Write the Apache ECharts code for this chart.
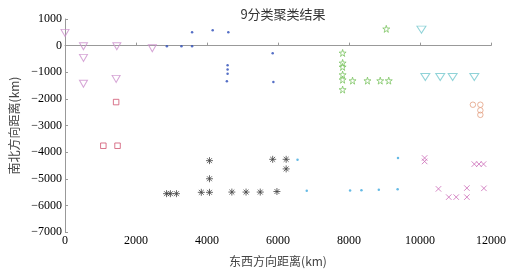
<!DOCTYPE html>
<html>
<head>
<meta charset="utf-8">
<script src="https://cdn.jsdelivr.net/npm/echarts@6/dist/echarts.min.js"></script>
<style>
  html, body { margin: 0; padding: 0; background: #fff; }
  #chart { width: 510px; height: 276px; }
</style>
</head>
<body>
<div id="chart"></div>
<script>
// 9 clusters, [east-west km, north-south km]
const cluster1 = [[0, 480], [520, -25], [520, -460], [520, -1430], [1460, -25], [1440, -1250], [2460, -100]];
const cluster2 = [[2870, -25], [3280, -25], [3580, -25], [3580, 500], [4160, 580], [4600, 500],
  [4580, -740], [4580, -900], [4580, -1060], [4560, -1340], [5850, -290], [5870, -1365]];
const cluster3 = [[7820, -275], [7820, -650], [7820, -800], [7820, -1090], [7820, -1280], [7820, -1650],
  [8100, -1315], [8520, -1315], [8880, -1315], [9120, -1315], [9050, 630]];
const cluster4 = [[10040, 600], [10150, -1180], [10570, -1180], [10920, -1180], [11530, -1180]];
const cluster5 = [[11490, -2220], [11700, -2220], [11700, -2430], [11700, -2600]];
const cluster6 = [[1440, -2120], [1080, -3760], [1480, -3760]];
const cluster7 = [[2860, -5560], [2970, -5560], [3140, -5560], [3840, -5510], [4070, -5510], [4070, -5000],
  [4070, -4320], [4700, -5500], [5100, -5500], [5500, -5500], [5970, -5480], [5850, -4270],
  [6230, -4270], [6230, -4630]];
const cluster8 = [[6550, -4290], [6810, -5450], [8030, -5440], [8350, -5430], [8840, -5410], [9370, -5390], [9380, -4220]];
const cluster9 = [[10130, -4220], [10130, -4350], [11530, -4450], [11660, -4450], [11790, -4450],
  [10520, -5380], [10810, -5690], [11020, -5690], [11320, -5350], [11320, -5690], [11800, -5360], [11790, -7040]];

const xTicks = [0, 2000, 4000, 6000, 8000, 10000, 12000];
const yTicks = [-7000, -6000, -5000, -4000, -3000, -2000, -1000, 0, 1000];

const starPath = 'path://M50,0L61,35L98,35L68,57L79,91L50,70L21,91L32,57L2,35L39,35Z';
const asteriskPath = 'path://M50,0L50,100M0,50L100,50M15,15L85,85M15,85L85,15';
const crossPath = 'path://M0,0L100,100M0,100L100,0';

const hollow = (c, w) => ({ color: 'transparent', borderColor: c, borderWidth: w || 1 });

const series = [
  { data: cluster1, symbol: 'triangle', symbolRotate: 180, symbolSize: [8, 7], itemStyle: hollow('#cc8fcc') },
  { data: cluster2, symbol: 'circle', symbolSize: 2.5, itemStyle: { color: '#2a4bb8' } },
  { data: cluster3, symbol: starPath, symbolSize: 7, itemStyle: hollow('#7cc462') },
  { data: cluster4, symbol: 'triangle', symbolRotate: 180, symbolSize: [9, 7], itemStyle: hollow('#74c8ce') },
  { data: cluster5, symbol: 'circle', symbolSize: 5.5, itemStyle: hollow('#e3a082') },
  { data: cluster6, symbol: 'rect', symbolSize: 5.5, itemStyle: hollow('#d05470') },
  { data: cluster7, symbol: asteriskPath, symbolSize: 7, itemStyle: hollow('#444444') },
  { data: cluster8, symbol: 'circle', symbolSize: 2.5, itemStyle: { color: '#3fa9de' } },
  { data: cluster9, symbol: crossPath, symbolSize: 5.5, itemStyle: hollow('#cc6cb8') }
].map(s => Object.assign({ type: 'scatter', silent: true, animation: false }, s));

const minus = v => String(v).replace('-', '\u2212');
const labelFont = { color: '#000', fontFamily: 'Liberation Serif', fontSize: 12 };

const chart = echarts.init(document.getElementById('chart'));
chart.setOption({
  backgroundColor: '#fff',
  animation: false,
  title: {
    text: '9分类聚类结果',
    left: 278, top: 3, textAlign: 'center',
    textStyle: { fontFamily: 'Noto Sans CJK SC', fontWeight: 'normal', fontSize: 13, color: '#333' }
  },
  grid: { left: 65, right: 19, top: 19, bottom: 44 },
  xAxis: {
    type: 'value', min: 0, max: 12000, interval: 2000,
    name: '东西方向距离(km)', nameLocation: 'middle', nameGap: 23,
    nameTextStyle: { fontFamily: 'Noto Sans CJK SC', fontSize: 12, color: '#444' },
    axisLine: { show: true, lineStyle: { color: '#999' } },
    axisTick: { show: true, inside: true, length: 3, lineStyle: { color: '#999' } },
    axisLabel: Object.assign({ margin: 3, formatter: v => xTicks.includes(v) ? minus(v) : '' }, labelFont),
    splitLine: { show: false }
  },
  yAxis: {
    type: 'value', min: -7000, max: 1000, interval: 1000,
    name: '南北方向距离(km)', nameLocation: 'middle', nameGap: 44, nameRotate: 90,
    nameTextStyle: { fontFamily: 'Noto Sans CJK SC', fontSize: 12, color: '#444' },
    axisLine: { show: true, lineStyle: { color: '#999' } },
    axisTick: { show: true, inside: true, length: 3, lineStyle: { color: '#999' } },
    axisLabel: Object.assign({ margin: 3, formatter: v => yTicks.includes(v) ? minus(v) : '' }, labelFont),
    splitLine: { show: false }
  },
  series: series
});
</script>
</body>
</html>
